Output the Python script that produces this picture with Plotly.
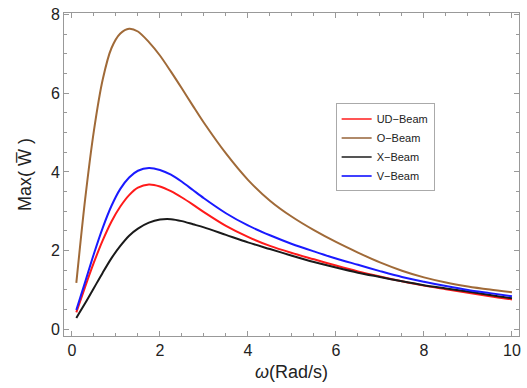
import plotly.graph_objects as go

omega = [0.1, 0.3, 0.5, 0.7, 0.9, 1.1, 1.3, 1.5, 1.75, 2.0, 2.25, 2.5, 2.75, 3.0, 3.5,
         4.0, 4.5, 5.0, 5.5, 6.0, 6.5, 7.0, 7.5, 8.0, 8.5, 9.0, 9.5, 10.0]

ud_beam = [0.43, 1.08, 1.70, 2.26, 2.74, 3.12, 3.41, 3.60, 3.68, 3.63, 3.51, 3.35, 3.17, 2.98, 2.63,
           2.35, 2.12, 1.94, 1.78, 1.62, 1.47, 1.34, 1.22, 1.11, 1.02, 0.93, 0.84, 0.76]
o_beam = [1.18, 3.30, 5.05, 6.35, 7.15, 7.52, 7.64, 7.57, 7.30, 6.96, 6.55, 6.12, 5.68, 5.25, 4.47,
          3.80, 3.27, 2.86, 2.52, 2.22, 1.95, 1.70, 1.49, 1.32, 1.19, 1.09, 1.01, 0.94]
x_beam = [0.29, 0.66, 1.05, 1.44, 1.81, 2.12, 2.38, 2.56, 2.71, 2.79, 2.80, 2.75, 2.67, 2.59, 2.40,
          2.21, 2.04, 1.87, 1.71, 1.57, 1.44, 1.33, 1.22, 1.12, 1.04, 0.96, 0.87, 0.79]
v_beam = [0.49, 1.20, 1.92, 2.58, 3.14, 3.57, 3.86, 4.03, 4.10, 4.05, 3.93, 3.75, 3.54, 3.33, 2.95,
          2.64, 2.39, 2.17, 1.98, 1.80, 1.64, 1.48, 1.33, 1.21, 1.10, 1.00, 0.92, 0.84]

series_names = ["UD\u2212Beam", "O\u2212Beam", "X\u2212Beam", "V\u2212Beam"]
series_vals = [ud_beam, o_beam, x_beam, v_beam]
line_colors = ["#ff1a1a", "#a06a38", "#1a1a1a", "#1a1aff"]
legend_colors = ["#ff5555", "#b08a6a", "#555555", "#4040ff"]

fig = go.Figure()
for name, vals, col in zip(series_names, series_vals, line_colors):
    fig.add_trace(go.Scatter(x=omega, y=vals, mode="lines", name=name,
                             line=dict(color=col, width=2, shape="spline", smoothing=0.8),
                             showlegend=False))
for name, col in zip(series_names, legend_colors):
    fig.add_trace(go.Scatter(x=[None], y=[None], mode="lines", name=name,
                             line=dict(color=col, width=2), showlegend=True))

axis_common = dict(
    showline=True, linecolor="#999999", linewidth=1, mirror="allticks",
    ticks="inside", ticklen=5, tickcolor="#999999", tickwidth=1,
    showgrid=False, zeroline=False,
    tickfont=dict(size=16, color="#222222", family="Liberation Sans"),
    minor=dict(ticks="inside", ticklen=3, tickcolor="#999999", dtick=0.5, showgrid=False),
)

fig.update_layout(
    width=527, height=388,
    margin=dict(l=64, r=6, t=11, b=52),
    paper_bgcolor="white", plot_bgcolor="white",
    font=dict(family="Liberation Sans", color="#222222"),
    xaxis=dict(range=[-0.18, 10.16], tickvals=[0, 2, 4, 6, 8, 10],
               title=dict(text="<i>\u03c9</i>(Rad/s)", font=dict(size=18), standoff=7),
               **axis_common),
    yaxis=dict(range=[-0.17, 8.04], tickvals=[0, 2, 4, 6, 8],
               title=dict(text="Max( W\u0305 )", font=dict(size=18), standoff=14),
               **axis_common),
    legend=dict(x=0.597, y=0.72, xanchor="left", yanchor="top",
                bordercolor="#aaaaaa", borderwidth=1, bgcolor="white",
                font=dict(size=11, color="#222222"), tracegroupgap=0),
)

fig.write_html("out.html")
